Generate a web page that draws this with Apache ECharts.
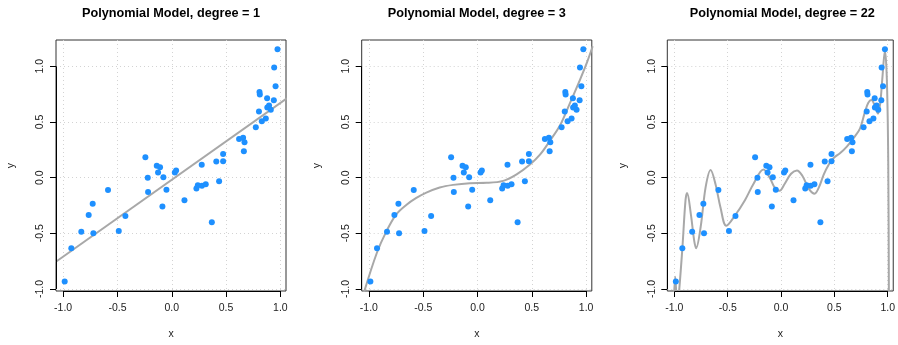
<!DOCTYPE html>
<html>
<head>
<meta charset="utf-8">
<script src="https://cdn.jsdelivr.net/npm/echarts@6/dist/echarts.min.js"></script>
<style>
  html, body { margin: 0; padding: 0; background: #ffffff; }
  #chart { width: 898px; height: 345px; }
</style>
</head>
<body>
<div id="chart"></div>
<script>
// Observed sample: x and y of each point
const xs = [-0.986, -0.925, -0.833, -0.722, -0.765, -0.728, -0.587, -0.488, -0.427, -0.243,
            -0.221, -0.218, -0.138, -0.108, -0.126, -0.077, -0.049, -0.086, 0.028, 0.040,
            0.117, 0.227, 0.240, 0.276, 0.278, 0.313, 0.369, 0.410, 0.436, 0.473,
            0.473, 0.620, 0.657, 0.664, 0.670, 0.774, 0.803, 0.808, 0.811, 0.829,
            0.866, 0.880, 0.878, 0.896, 0.912, 0.940, 0.943, 0.956, 0.974];
const ys = [-0.933, -0.633, -0.485, -0.500, -0.335, -0.235, -0.112, -0.480, -0.344, 0.183,
            0.000, -0.130, 0.106, 0.094, 0.047, 0.003, -0.109, -0.259, 0.047, 0.065,
            -0.203, -0.097, -0.068, 0.115, -0.072, -0.059, -0.400, 0.144, -0.032, 0.147,
            0.212, 0.347, 0.359, 0.238, 0.318, 0.453, 0.594, 0.768, 0.747, 0.506,
            0.530, 0.629, 0.712, 0.647, 0.609, 0.694, 0.988, 0.821, 1.153];

// Fitted model curves (x, y pairs)
const fit1X = [-1.07, 1.06];
const fit1Y = [-0.758, 0.712];

const fit3X = [-1.045, -0.927, -0.840, -0.748, -0.656, -0.563, -0.471, -0.348, -0.225, -0.071,
               0.083, 0.237, 0.360, 0.483, 0.575, 0.668, 0.760, 0.852, 0.945, 1.006, 1.060];
const fit3Y = [-1.030, -0.677, -0.485, -0.330, -0.245, -0.182, -0.134, -0.088, -0.065, -0.050,
               -0.047, -0.029, 0.029, 0.118, 0.206, 0.333, 0.470, 0.672, 0.883, 1.030, 1.180];

const fit22X = [-1.006, -0.992, -0.972, -0.958, -0.925, -0.895, -0.880, -0.845, -0.814, -0.796,
                -0.753, -0.707, -0.660, -0.614, -0.568, -0.513, -0.430, -0.337, -0.260, -0.165,
                -0.106, -0.060, -0.014, 0.032, 0.094, 0.149, 0.201, 0.263, 0.315, 0.355,
                0.401, 0.448, 0.494, 0.555, 0.617, 0.678, 0.740, 0.786, 0.817, 0.848,
                0.878, 0.909, 0.931, 0.949, 0.974, 0.992, 1.005, 1.012];
const fit22Y = [-1.150, -0.889, -1.150, -1.050, -0.638, -0.200, -0.138, -0.330, -0.565, -0.633,
                -0.441, -0.088, 0.068, -0.059, -0.265, -0.432, -0.338, -0.200, -0.059, 0.074,
                0.000, -0.088, -0.118, -0.059, 0.035, 0.065, 0.015, -0.103, -0.144, -0.088,
                0.029, 0.118, 0.177, 0.221, 0.279, 0.353, 0.441, 0.588, 0.671, 0.697,
                0.647, 0.574, 0.677, 0.883, 1.141, 0.883, 0.147, -1.300];

const titles = ['Polynomial Model, degree = 1', 'Polynomial Model, degree = 3', 'Polynomial Model, degree = 22'];
const tickValues = [-1, -0.5, 0, 0.5, 1];
const tickLabels = ['-1.0', '-0.5', '0.0', '0.5', '1.0'];

const X_MIN = -1.066, X_MAX = 1.052;
const Y_MIN = -1.018, Y_MAX = 1.236;

const boxes = [
  { left: 56,    right: 286 },
  { left: 361.7, right: 591.8 },
  { left: 667.3, right: 897.4 }
];
const TOP = 40, BOTTOM = 295.5;

const FONT = '"Liberation Sans", Arial, Helvetica, sans-serif';
const labelOf = v => {
  const i = tickValues.findIndex(t => Math.abs(t - v) < 1e-9);
  return i >= 0 ? tickLabels[i] : '';
};

const pairs = (a, b) => a.map((v, i) => [v, b[i]]);
const points = pairs(xs, ys);
const curves = [pairs(fit1X, fit1Y), pairs(fit3X, fit3Y), pairs(fit22X, fit22Y)];

const grids = [], xAxes = [], yAxes = [], series = [], titleList = [];
boxes.forEach((b, i) => {
  grids.push({
    left: b.left, top: TOP, width: b.right - b.left, height: BOTTOM - TOP,
    show: true, borderColor: '#333333', borderWidth: 1, backgroundColor: 'transparent'
  });
  titleList.push({
    text: titles[i], left: (b.left + b.right) / 2, top: 7, textAlign: 'center', padding: 0,
    textStyle: { fontFamily: FONT, fontSize: 12.7, fontWeight: 'bold', color: '#000' }
  });
  const common = {
    type: 'value', gridIndex: i,
    axisLine: { show: false, onZero: false },
    axisTick: { show: true, customValues: tickValues, length: 6, inside: false,
                lineStyle: { color: '#000', width: 1 } },
    axisLabel: { customValues: tickValues, formatter: labelOf,
                 fontFamily: FONT, fontSize: 10.5, color: '#222' },
    splitLine: { show: true, lineStyle: { color: '#d3d3d3', width: 1, type: [1, 3] } },
    nameLocation: 'middle',
    nameTextStyle: { fontFamily: FONT, fontSize: 10.5, color: '#222' }
  };
  xAxes.push(Object.assign({}, common, {
    position: 'bottom', min: X_MIN, max: X_MAX, name: 'x', nameGap: 38,
    axisLabel: Object.assign({}, common.axisLabel, { margin: 12 })
  }));
  yAxes.push(Object.assign({}, common, {
    position: 'left', min: Y_MIN, max: Y_MAX, name: 'y', nameGap: 39,
    axisLabel: Object.assign({}, common.axisLabel, { rotate: 90, margin: 10 })
  }));
  // fitted curve
  series.push({
    type: 'line', xAxisIndex: i, yAxisIndex: i, data: curves[i],
    showSymbol: false, symbol: 'none', smooth: i === 0 ? false : 0.35,
    clip: true, silent: true, z: 2,
    lineStyle: { color: '#a8a8a8', width: 2 }
  });
  // observations, plus the axis lines spanning the outer ticks
  series.push({
    type: 'scatter', xAxisIndex: i, yAxisIndex: i, data: points,
    symbol: 'circle', symbolSize: 6, z: 3,
    itemStyle: { color: '#1E90FF', opacity: 1 },
    markLine: {
      silent: true, symbol: 'none', animation: false,
      label: { show: false },
      lineStyle: { color: '#000', width: 1, type: 'solid' },
      data: [
        [{ coord: [tickValues[0], Y_MIN] }, { coord: [tickValues[tickValues.length - 1], Y_MIN] }],
        [{ coord: [X_MIN, tickValues[0]] }, { coord: [X_MIN, tickValues[tickValues.length - 1]] }]
      ]
    }
  });
});

const chart = echarts.init(document.getElementById('chart'), null, { renderer: 'canvas' });
chart.setOption({
  animation: false,
  backgroundColor: '#ffffff',
  textStyle: { fontFamily: FONT },
  title: titleList,
  grid: grids,
  xAxis: xAxes,
  yAxis: yAxes,
  series: series
});
</script>
</body>
</html>
